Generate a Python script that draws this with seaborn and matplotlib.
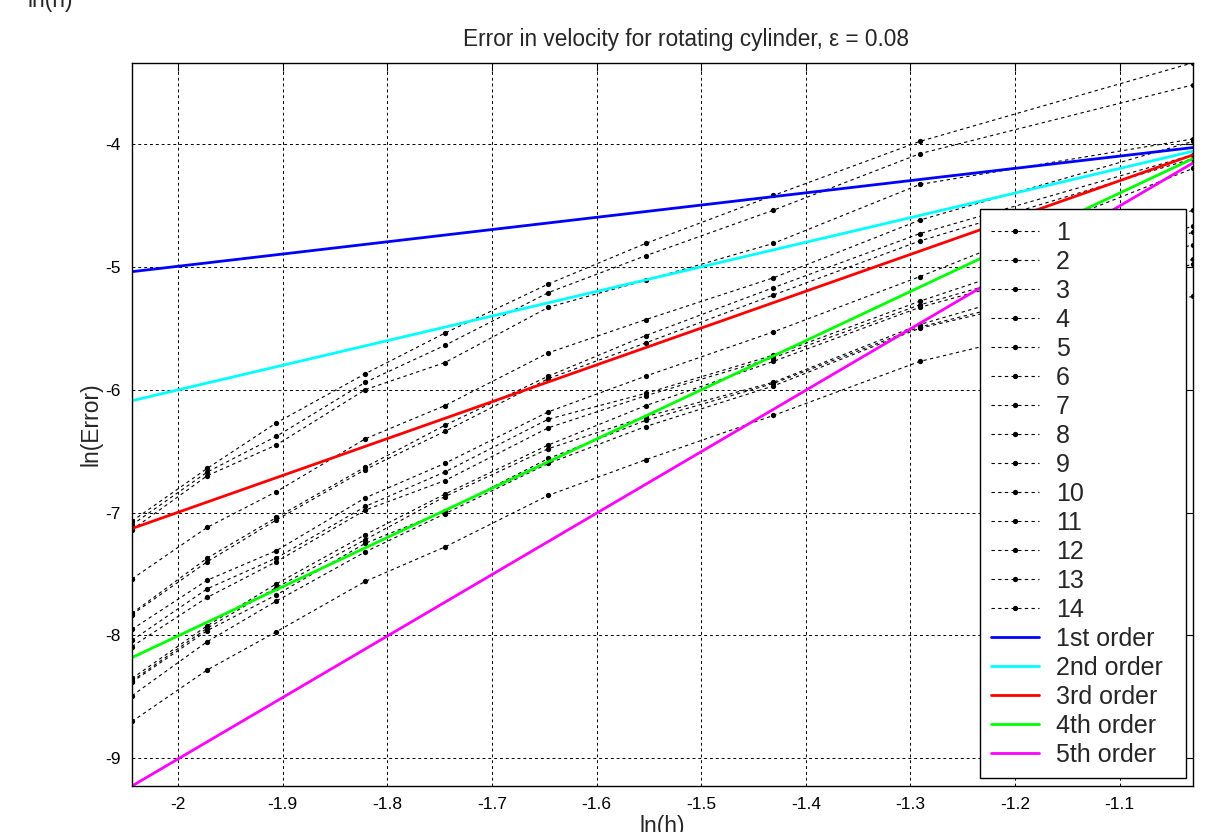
import numpy as np
import pandas as pd
import matplotlib
matplotlib.use("Agg")
import matplotlib.pyplot as plt
import seaborn as sns

# ---- data ----
ln_h = [-2.044, -1.972, -1.906, -1.821, -1.745, -1.646, -1.553, -1.431, -1.291, -1.030]

s1 = [-7.07, -6.64, -6.27, -5.87, -5.54, -5.14, -4.81, -4.42, -3.98, -3.34]
s2 = [-7.10, -6.67, -6.38, -5.94, -5.64, -5.21, -4.91, -4.54, -4.08, -3.52]
s3 = [-7.14, -6.70, -6.45, -6.00, -5.78, -5.33, -5.11, -4.81, -4.33, -3.96]
s4 = [-7.54, -7.12, -6.83, -6.40, -6.13, -5.70, -5.43, -5.09, -4.62, -3.98]
s5 = [-7.82, -7.37, -7.04, -6.63, -6.29, -5.89, -5.56, -5.17, -4.73, -4.09]
s6 = [-7.83, -7.40, -7.06, -6.65, -6.34, -5.91, -5.62, -5.23, -4.79, -4.12]
s7 = [-7.95, -7.55, -7.31, -6.88, -6.60, -6.18, -5.89, -5.53, -5.08, -4.20]
s8 = [-8.04, -7.62, -7.37, -6.95, -6.67, -6.24, -6.03, -5.72, -5.28, -4.54]
s9 = [-8.09, -7.69, -7.40, -6.98, -6.74, -6.31, -6.05, -5.74, -5.31, -4.67]
s10 = [-8.35, -7.92, -7.58, -7.18, -6.85, -6.45, -6.13, -5.77, -5.33, -4.72]
s11 = [-8.37, -7.94, -7.61, -7.22, -6.87, -6.48, -6.22, -5.94, -5.47, -4.82]
s12 = [-8.38, -7.96, -7.67, -7.25, -6.99, -6.56, -6.25, -5.95, -5.49, -4.94]
s13 = [-8.49, -8.05, -7.72, -7.32, -7.01, -6.60, -6.30, -5.97, -5.50, -4.98]
s14 = [-8.70, -8.28, -7.97, -7.56, -7.28, -6.86, -6.57, -6.21, -5.77, -5.24]
series = [s1, s2, s3, s4, s5, s6, s7, s8, s9, s10, s11, s12, s13, s14]
series_labels = [str(i) for i in range(1, 15)]

# reference order lines: value at left end and right end of the x range
order_labels = ["1st order", "2nd order", "3rd order", "4th order", "5th order"]
order_x = [-2.044, -1.030]
order_left = [-5.04, -6.09, -7.13, -8.18, -9.225]
order_right = [-4.03, -4.06, -4.09, -4.12, -4.155]
order_colors = ["#0000ff", "#00ffff", "#ff0000", "#00ff00", "#ff00ff"]

xticks = [-2, -1.9, -1.8, -1.7, -1.6, -1.5, -1.4, -1.3, -1.2, -1.1]
xticklabels = ["-2", "-1.9", "-1.8", "-1.7", "-1.6", "-1.5", "-1.4", "-1.3", "-1.2", "-1.1"]
yticks = [-9, -8, -7, -6, -5, -4]
yticklabels = ["-9", "-8", "-7", "-6", "-5", "-4"]

# ---- plotting ----
sns.set_theme(style="white")
plt.rcParams["font.family"] = ["Liberation Sans", "DejaVu Sans"]

fig = plt.figure(figsize=(12.29, 8.32), dpi=100)
ax = fig.add_axes([0.1074, 0.0553, 0.8633, 0.8693])

handles = []
for vals, lab in zip(series, series_labels):
    df = pd.DataFrame({"x": ln_h, "y": vals})
    sns.lineplot(data=df, x="x", y="y", ax=ax, color="black", linestyle=(0, (3, 3)),
                 linewidth=0.8, marker="o", markersize=3.8, markeredgewidth=0,
                 sort=False, estimator=None, legend=False)
    handles.append(ax.lines[-1])
    handles[-1].set_label(lab)

for lo, hi, lab, col in zip(order_left, order_right, order_labels, order_colors):
    df = pd.DataFrame({"x": order_x, "y": [lo, hi]})
    sns.lineplot(data=df, x="x", y="y", ax=ax, color=col, linewidth=2.0,
                 sort=False, estimator=None, legend=False)
    handles.append(ax.lines[-1])
    handles[-1].set_label(lab)

ax.set_xlim(-2.044, -1.030)
ax.set_ylim(-9.225, -3.34)
ax.set_xticks(xticks)
ax.set_xticklabels(xticklabels)
ax.set_yticks(yticks)
ax.set_yticklabels(yticklabels)
ax.tick_params(direction="in", top=True, right=True, length=6, width=0.8,
               labelsize=12.5, colors="black", pad=8)
ax.grid(True, color="black", linestyle=(0, (3, 3)), linewidth=0.7)
for sp in ax.spines.values():
    sp.set_color("black")
    sp.set_linewidth(1.0)

ax.set_title("Error in velocity for rotating cylinder, \u03b5 = 0.08", fontsize=16.3,
             pad=12, x=0.522)
ax.set_xlabel("ln(h)", fontsize=16.5, labelpad=2)
ax.set_ylabel("ln(Error)", fontsize=16.5, labelpad=2)

fig.text(0.022, 1 - 7.0 / 832, "ln(h)", fontsize=16.5, ha="left", va="baseline")

leg = ax.legend(handles=handles, loc="lower left", bbox_to_anchor=(0.7992, 0.0111, 0.1942, 0.5),
                mode="expand", fontsize=18, frameon=True,
                fancybox=False, edgecolor="black", framealpha=1.0,
                handlelength=1.9, labelspacing=0.2, borderaxespad=0.0,
                borderpad=0.45, handletextpad=0.68)
leg.get_frame().set_linewidth(1.0)

fig.savefig("out.png", dpi=100)
